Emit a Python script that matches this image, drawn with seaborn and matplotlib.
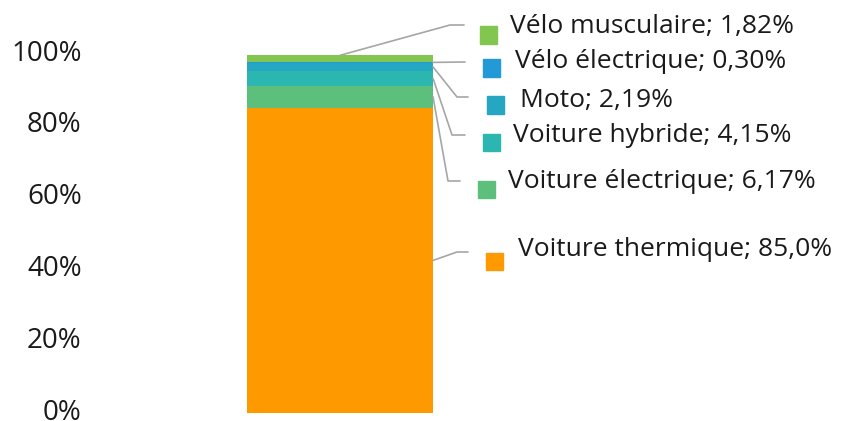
import matplotlib
matplotlib.use("Agg")
import numpy as np
import matplotlib.pyplot as plt
import seaborn as sns
from matplotlib.patches import Rectangle
from matplotlib.lines import Line2D
from matplotlib.ticker import PercentFormatter
from matplotlib.transforms import ScaledTranslation

# Data: modal share, stacked bottom -> top
modes = ["Voiture thermique", "Voiture électrique", "Voiture hybride",
         "Moto", "Vélo électrique", "Vélo musculaire"]
shares = [85.0, 6.17, 4.15, 2.19, 0.30, 1.82]
share_labels = ["85,0%", "6,17%", "4,15%", "2,19%", "0,30%", "1,82%"]
colors = ["#FF9900", "#5CBF7C", "#2BB7AF", "#25A6C2", "#2399D6", "#82C650"]

# label layout in pixels from the top-left corner (text left x, text centre y)
text_pos = [(518, 250), (508, 182), (513, 135), (520, 100), (515, 62), (510, 27)]
marker_pos = [(494, 261), (486, 189), (491, 142), (495, 105), (491, 68), (488, 35)]
elbow_pos = [(457, 468, 252), (448, 460, 181), (452, 465, 135),
             (457, 468, 97), (465, 465, 62), (450, 464, 25)]

W, H = 843, 421

sns.set_theme(style="white")
plt.rcParams["font.family"] = ["Open Sans", "DejaVu Sans"]

fig = plt.figure(figsize=(W / 100, H / 100), dpi=100)
ax = fig.add_axes([90 / W, 8 / H, 753 / W, 359 / H])

tops = np.cumsum(shares) / 100
bottoms = tops - np.array(shares) / 100
# draw cumulative bars from the top down so each lower segment covers the rest
for i in range(len(modes) - 1, -1, -1):
    sns.barplot(x=["total"], y=[tops[i]], color=colors[i], width=0.8,
                saturation=1, linewidth=0, ax=ax)

ax.set_ylim(0, 1)
ax.set_xlim(-1.075, 2.163)
ax.set_yticks(np.arange(0, 1.01, 0.2))
ax.yaxis.set_major_formatter(PercentFormatter(1.0, decimals=0))
ax.tick_params(axis="y", length=0, labelsize=20, pad=6, labelcolor="#1a1a1a")
# nudge the tick labels up a few pixels like the original
shift = ScaledTranslation(0, 4 / 100, fig.dpi_scale_trans)
for t in ax.yaxis.get_major_ticks():
    t.label1.set_transform(t.label1.get_transform() + shift)
ax.set_xticks([])
ax.set_xlabel("")
ax.set_ylabel("")
sns.despine(ax=ax, left=True, bottom=True)


def px(x, y):
    return x / W, 1 - y / H


to_fig = fig.transFigure.inverted()
for i, mode in enumerate(modes):
    # anchor on the bar: right edge at mid segment, top segment from its top
    if i == len(modes) - 1:
        anchor = (0.0, tops[i])
    else:
        anchor = (0.4, (tops[i] + bottoms[i]) / 2)
    ax_x, ax_y = to_fig.transform(ax.transData.transform(anchor))
    ex1, ex2, ey = elbow_pos[i]
    (x1, y1), (x2, y2) = px(ex1, ey), px(ex2, ey)
    fig.add_artist(Line2D([ax_x, x1, x2], [ax_y, y1, y2], color="#A6A6A6",
                          lw=1.2, transform=fig.transFigure))
    mx, my = marker_pos[i]
    rx, ry = px(mx - 8.5, my + 8.5)
    fig.add_artist(Rectangle((rx, ry), 17 / W, 17 / H, color=colors[i],
                             transform=fig.transFigure))
    tx, ty = px(*text_pos[i])
    fig.text(tx, ty, f"{mode}; {share_labels[i]}", ha="left", va="center",
             fontsize=19, color="#1a1a1a")

fig.savefig("out.png", dpi=100)
